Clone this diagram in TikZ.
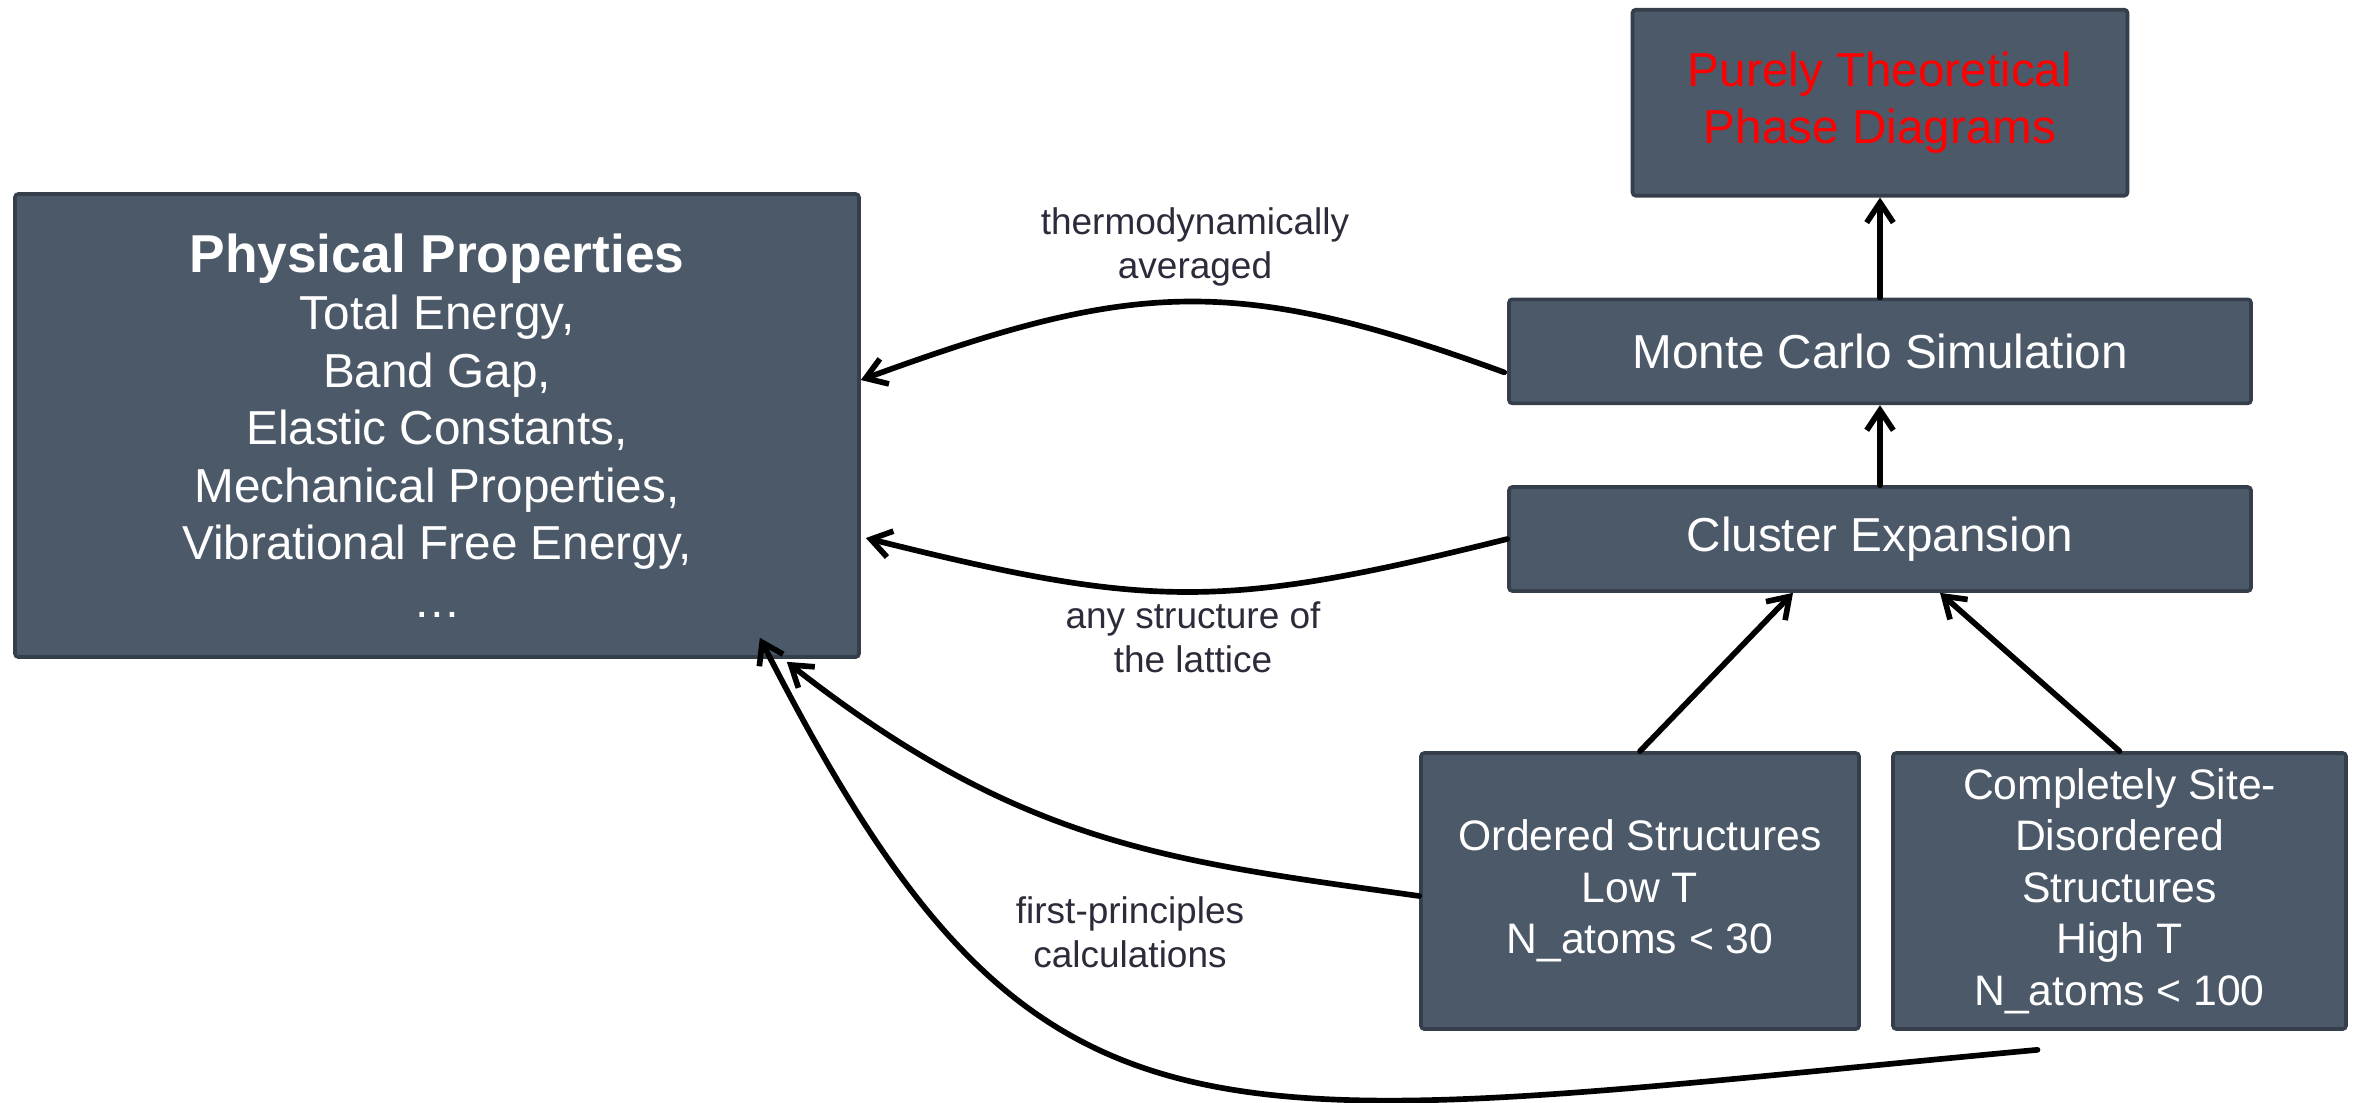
\documentclass[tikz,border=0pt]{standalone}
\usepackage{fontspec}
\setmainfont{Liberation Sans}
\usepackage{xcolor}
\usepackage{tikz}
\usetikzlibrary{
  arrows.meta,
  positioning,
  calc
}
\definecolor{pdFill}{HTML}{4C5969}
\definecolor{pdEdge}{HTML}{353F4C}
\definecolor{pdText}{HTML}{2B2B3A}
\definecolor{pdRed}{HTML}{FF0000}
\tikzset{
  pdnode/.style={
    draw=pdEdge, fill=pdFill, line width=1.1pt, rounded corners=1pt,
    text=white, align=center, inner sep=0pt,
    font=\fontsize{14.3}{17.25}\selectfont
  },
  propbox/.style={pdnode, minimum width=253.2pt, minimum height=138.9pt},
  stagebox/.style={pdnode, minimum width=222.6pt, minimum height=31.2pt},
  resultbox/.style={pdnode, minimum width=148.5pt, minimum height=55.8pt, text=pdRed},
  inputbox/.style={pdnode, minimum height=82.8pt, font=\fontsize{12.8}{15.45}\selectfont},
  edgelabel/.style={font=\fontsize{11.1}{13.2}\selectfont, text=pdText, align=center, inner sep=0pt},
  flow/.style={-{Straight Barb[length=6pt, width=8pt]}, line width=1.7pt, black, line cap=round}
}
\begin{document}
\begin{tikzpicture}[x=0.3pt, y=-0.3pt]
  \useasboundingbox (0,0) rectangle (2356,1102);
  \node[propbox] (props) at (437,425.5)
    {{\fontsize{16}{17.25}\selectfont\bfseries Physical Properties}\\
     Total Energy,\\ Band Gap,\\ Elastic Constants,\\ Mechanical Properties,\\
     Vibrational Free Energy,\\ …};
  \node[stagebox] (ce) at (1880,539) {Cluster Expansion};
  \node[stagebox, above=24pt of ce] (mc) {Monte Carlo Simulation};
  \node[resultbox, above=30pt of mc] (theory) {Purely Theoretical\\Phase Diagrams};
  \node[inputbox, minimum width=131.4pt] (ordered) at (1640,891)
    {Ordered Structures\\Low T\\N\_atoms < 30};
  \node[inputbox, minimum width=135.9pt] (disord) at (2119.5,891)
    {Completely Site-\\Disordered\\Structures\\High T\\N\_atoms < 100};
  % labels on the curved links
  \node[edgelabel] (lblavg) at (1195,247) {thermodynamically\\averaged};
  \node[edgelabel] (lbllat) at (1193,637.5) {any structure of\\the lattice};
  \node[edgelabel] (lblfp) at (1130,932) {first-principles\\calculations};
  \draw[flow] ($(mc.west)+(-3,21)$) .. controls +(-271,-99) and +(271,-99) .. ($(props.east)+(0,-45.5)$);
  \draw[flow] (ce.west) .. controls +(-284,71) and +(284,71) .. ($(props.east)+(5,112.5)$);
  \draw[flow] ($(ordered.west)+(0,5)$) .. controls +(-248,-35) and +(236,185) .. ($(props.south east)+(-74,3)$);
  \draw[flow] ($(disord.south)+(-82,19)$) .. controls +(-842,78) and +(281,552) .. ($(props.south east)+(-101,-21)$);
  \draw[flow] (ordered.north) -- ($(ce.south)+(-87,0)$);
  \draw[flow] (disord.north) -- ($(ce.south)+(60,0)$);
  \draw[flow] (ce.north) -- (mc.south);
  \draw[flow] (mc.north) -- (theory.south);
\end{tikzpicture}
\end{document}
